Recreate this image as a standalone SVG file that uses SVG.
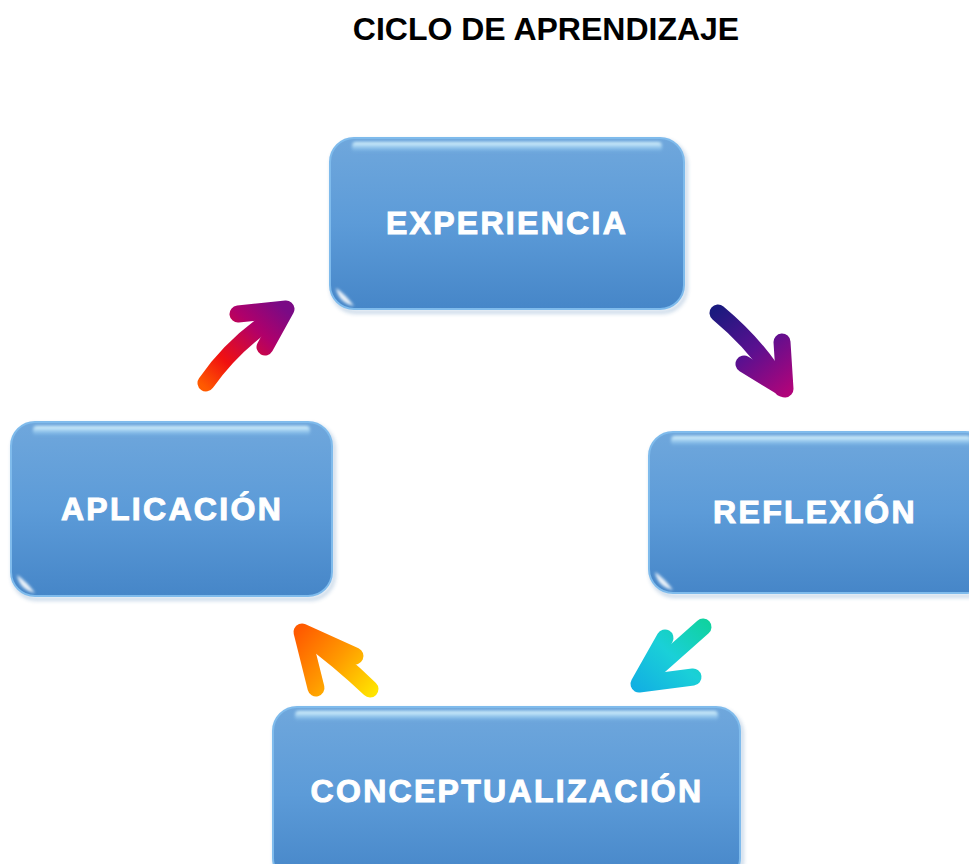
<svg xmlns="http://www.w3.org/2000/svg" width="969" height="864" viewBox="0 0 969 864">
<defs>
<linearGradient id="boxFill" x1="0" y1="0" x2="0" y2="1">
<stop offset="0" stop-color="#6fa7dc"/>
<stop offset="0.5" stop-color="#5c9bd8"/>
<stop offset="1" stop-color="#4686c8"/>
</linearGradient>
<linearGradient id="topGlow" x1="0" y1="0" x2="0" y2="1">
<stop offset="0" stop-color="#e6fbff" stop-opacity="1"/>
<stop offset="1" stop-color="#9fdcff" stop-opacity="0"/>
</linearGradient>
<filter id="soft" x="-20%" y="-50%" width="140%" height="200%"><feGaussianBlur stdDeviation="1.5"/></filter>
<filter id="shadow" x="-10%" y="-10%" width="120%" height="130%"><feGaussianBlur stdDeviation="2"/></filter>
<linearGradient id="g1" gradientUnits="userSpaceOnUse" x1="205" y1="388" x2="280" y2="305">
<stop offset="0" stop-color="#ff5a00"/><stop offset="0.3" stop-color="#f01010"/><stop offset="0.7" stop-color="#b0006a"/><stop offset="1" stop-color="#7a0a85"/>
</linearGradient>
<linearGradient id="g2" gradientUnits="userSpaceOnUse" x1="715" y1="310" x2="785" y2="395">
<stop offset="0" stop-color="#1a1a7e"/><stop offset="0.5" stop-color="#5a1090"/><stop offset="1" stop-color="#b0047a"/>
</linearGradient>
<linearGradient id="g3" gradientUnits="userSpaceOnUse" x1="705" y1="620" x2="640" y2="692">
<stop offset="0" stop-color="#10d2a0"/><stop offset="0.5" stop-color="#1ad0d8"/><stop offset="1" stop-color="#12b0e2"/>
</linearGradient>
<linearGradient id="g4" gradientUnits="userSpaceOnUse" x1="300" y1="628" x2="375" y2="692">
<stop offset="0" stop-color="#ff5a00"/><stop offset="0.5" stop-color="#ff9a00"/><stop offset="1" stop-color="#ffe400"/>
</linearGradient>
</defs>
<style>
.title{font-family:"Liberation Sans",Arial,sans-serif;font-weight:bold;font-size:32px;fill:#000;text-anchor:middle}
.lbl{font-family:"Liberation Sans",Arial,sans-serif;font-weight:bold;font-size:32px;letter-spacing:2.3px;fill:#fff;stroke:#fff;stroke-width:1;text-anchor:middle}
.box{fill:url(#boxFill);stroke:#7fbbec;stroke-width:2}
.edge{fill:none;stroke:#2f6aa8;stroke-width:2;opacity:0.5;filter:url(#shadow)}
.glow{fill:url(#topGlow);filter:url(#soft)}
.glint{fill:#ffffff;opacity:0.9;filter:url(#soft)}
.side{fill:none;stroke:#a5d8ff;stroke-width:3;opacity:0.6;filter:url(#soft)}
.shaft{fill:none;stroke-width:17;stroke-linecap:round;stroke-linejoin:round}
</style>
<rect width="969" height="864" fill="#fff"/>
<text class="title" x="546" y="40">CICLO DE APRENDIZAJE</text>

<g id="experiencia">
<rect class="edge" x="332" y="141" width="354" height="171" rx="24"/>
<rect class="box" x="330" y="138" width="354" height="171" rx="24"/>
<rect class="glow" x="352" y="142" width="310" height="10" rx="4"/>
<path class="side" d="M336 170 V290"/>
<path class="glint" d="M336 288 Q339 303 354 306 Q345 294 336 288 Z"/>
<text class="lbl" x="507" y="234">EXPERIENCIA</text>
</g>

<g id="reflexion">
<rect class="edge" x="651" y="435" width="340" height="161" rx="24"/>
<rect class="box" x="649" y="432" width="340" height="161" rx="24"/>
<rect class="glow" x="671" y="436" width="300" height="10" rx="4"/>
<path class="side" d="M655 462 V575"/>
<path class="glint" d="M655 572 Q658 587 673 590 Q664 578 655 572 Z"/>
<text class="lbl" x="815" y="523">REFLEXIÓN</text>
</g>

<g id="aplicacion">
<rect class="edge" x="13" y="425" width="321" height="174" rx="24"/>
<rect class="box" x="11" y="422" width="321" height="174" rx="24"/>
<rect class="glow" x="33" y="426" width="277" height="10" rx="4"/>
<path class="side" d="M17 452 V577"/>
<path class="glint" d="M17 575 Q20 590 35 593 Q26 581 17 575 Z"/>
<text class="lbl" x="172" y="520">APLICACIÓN</text>
</g>

<g id="conceptualizacion">
<rect class="edge" x="275" y="710" width="467" height="175" rx="24"/>
<rect class="box" x="273" y="707" width="467" height="175" rx="24"/>
<rect class="glow" x="295" y="711" width="423" height="10" rx="4"/>
<path class="side" d="M279 737 V860"/>
<text class="lbl" x="507" y="802">CONCEPTUALIZACIÓN</text>
</g>

<g id="connectors">
<g>
<path class="shaft" stroke="url(#g1)" d="M206 383 Q236 340 284 311"/>
<path class="shaft" stroke="url(#g1)" stroke-linejoin="miter" d="M238 314 L286 309 L265 347"/>
</g>
<g>
<path class="shaft" stroke="url(#g2)" d="M718 313 Q760 348 782 388"/>
<path class="shaft" stroke="url(#g2)" stroke-linejoin="miter" d="M782 342 L785 389 L744 364"/>
</g>
<g>
<path class="shaft" stroke="url(#g3)" d="M703 627 L641 682"/>
<path class="shaft" stroke="url(#g3)" stroke-linejoin="miter" d="M665 638 L639 684 L693 677"/>
</g>
<g>
<path class="shaft" stroke="url(#g4)" d="M370 689 Q340 660 304 634"/>
<path class="shaft" stroke="url(#g4)" stroke-linejoin="miter" d="M355 656 L302 632 L316 688"/>
</g>
</g>
</svg>
